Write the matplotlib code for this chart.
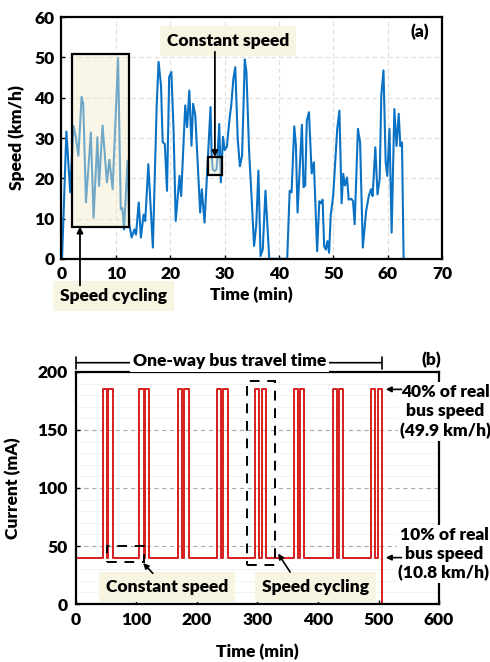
import matplotlib
matplotlib.use("Agg")
import matplotlib.pyplot as plt
from matplotlib.patches import Rectangle

plt.rcParams['font.family'] = ['Lato', 'DejaVu Sans']
plt.rcParams['font.weight'] = 'heavy'
plt.rcParams['axes.labelweight'] = 'heavy'
plt.rcParams['font.size'] = 12.5

# (a) recorded bus speed along the route
t_min = [0.1, 0.9, 1.6, 2.2, 2.6, 3.1, 3.7, 4.0, 4.5, 5.4, 5.9, 6.6, 6.9, 7.55, 8.35, 8.8,
         9.4, 10.4, 10.9, 11.2, 11.5, 12.15, 12.45, 12.9, 13.4, 13.7, 14.2, 14.6, 15.1, 15.4,
         15.96, 16.8, 17.5, 17.85, 18.3, 18.6, 19.0, 19.4, 19.8, 20.2, 20.6, 21.0, 21.7, 22.0,
         22.75, 23.1, 23.5, 23.9, 24.2, 24.6, 25.1, 25.5, 25.8, 26.3, 27.4, 27.6, 27.8, 28.2,
         28.5, 28.7, 29.0, 29.3, 29.7, 30.0, 30.4, 30.9, 31.2, 31.6, 31.95, 32.4, 32.8, 33.2,
         33.7, 34.0, 34.5, 35.0, 35.4, 35.8, 36.2, 36.6, 37.0, 37.5, 38.0, 38.2, 41.5, 41.95,
         42.3, 42.8, 43.1, 43.4, 44.2, 44.5, 44.8, 45.1, 45.5, 46.0, 46.4, 47.0, 47.4, 47.7,
         48.0, 48.3, 48.6, 48.9, 49.2, 49.5, 49.95, 50.7, 51.1, 51.5, 51.8, 52.1, 52.5, 52.8,
         53.3, 53.6, 53.9, 54.5, 54.9, 55.4, 56.0, 56.5, 56.9, 57.2, 57.7, 58.1, 58.5, 58.8,
         59.2, 59.6, 59.9, 60.3, 60.7, 61.2, 61.6, 62.0, 62.3, 62.6, 62.9]
speed_kmh = [0, 31.6, 16.5, 33, 30.5, 25.6, 40.2, 38.5, 14, 31.4, 10.2, 30.2, 18.1, 33.1, 19, 24.6,
             17.3, 49.9, 12.3, 12.6, 7.3, 24.4, 8.6, 5.3, 7.3, 6.0, 14, 5.3, 11, 9.4,
             23.5, 2.8, 38, 48.9, 43, 29, 28.5, 16.9, 45.2, 46.4, 32.3, 9.4, 20.6, 15.6,
             38.1, 32.7, 41.8, 28.1, 38.5, 35.6, 22.3, 11.5, 17.3, 9, 37.7, 26, 22.2, 21.8,
             22.3, 25.5, 33.5, 19, 30.3, 27, 27.8, 34.8, 38, 44.7, 47.6, 29.7, 23, 25.6,
             49.5, 46.4, 26.4, 14, 3.2, 8.2, 21.9, 0.7, 2.3, 16.9, 4.6, 0, 0, 16.9,
             16.5, 32.9, 28.1, 11.5, 33.3, 17.8, 18.2, 34.3, 36.4, 21.2, 24, 1.9, 14.3, 13.8,
             14.7, 3.1, 2.3, 4.4, 1.5, 10.8, 15.7, 32.3, 36.8, 13.8, 21.1, 18.2, 20.2, 14.7,
             14.9, 14.3, 8.6, 32.3, 28.9, 2.8, 11.8, 15.6, 17.3, 15.6, 27.7, 16, 19.8, 40.6,
             46.8, 24, 20.6, 32.3, 6.5, 37.2, 28, 36, 28, 28.9, 0]

# (b) programmed current profile
pulse_starts = [44, 53.5, 105, 114.5, 169, 179, 232.5, 243.5,
                296, 307, 360, 370, 424, 435, 487.5, 498.5]
pulse_width = 7
base_current = 40
peak_current = 185

cream = '#F8F4E2'
blue = '#0A72C4'
red = '#D81E1E'


def bold_ticks(ax):
    for lab in ax.get_xticklabels() + ax.get_yticklabels():
        lab.set_fontweight('heavy')


fig = plt.figure(figsize=(4.9, 6.62), dpi=100)

# ---------------- (a) ----------------
ax1 = fig.add_axes([0.1255, 0.609, 0.777, 0.365])
ax1.plot(t_min, speed_kmh, color=blue, lw=1.5, zorder=2)
ax1.set_xlim(0, 70)
ax1.set_ylim(0, 60)
ax1.set_xticks(range(0, 71, 10))
ax1.set_yticks(range(0, 61, 10))
ax1.grid(True, color='#DDDDDD', ls=(0, (4, 3)), lw=0.8)
ax1.set_axisbelow(True)
ax1.tick_params(direction='in', length=3, width=1, pad=5)
bold_ticks(ax1)
for s in ax1.spines.values():
    s.set_linewidth(1.6)
ax1.set_xlabel('Time (min)')
ax1.xaxis.set_label_coords(0.5, -0.115)
ax1.set_ylabel('Speed (km/h)')
ax1.yaxis.set_label_coords(-0.095, 0.5)

# highlighted regions
ax1.add_patch(Rectangle((1.85, 8.0), 10.6, 42.8, facecolor='#F3ECCC', alpha=0.45,
                        edgecolor='none', zorder=3))
ax1.add_patch(Rectangle((1.85, 8.0), 10.6, 42.8, fill=False, edgecolor='black',
                        lw=1.6, zorder=4))
ax1.add_patch(Rectangle((26.9, 20.8), 2.6, 4.4, facecolor='#F3ECCC', alpha=0.45,
                        edgecolor='none', zorder=3))
ax1.add_patch(Rectangle((26.9, 20.8), 2.6, 4.4, fill=False, edgecolor='black',
                        lw=1.6, zorder=4))

ax1.text(30.6, 54.2, 'Constant speed', ha='center', va='center', zorder=5,
         bbox=dict(boxstyle='square,pad=0.4', facecolor=cream, edgecolor='none'))
ax1.annotate('', xy=(28.2, 25.3), xytext=(28.2, 51.4),
             arrowprops=dict(arrowstyle='-|>', color='black', lw=1.3, mutation_scale=9,
                             shrinkA=0, shrinkB=0), zorder=5)
ax1.text(9.5, -9.2, 'Speed cycling', ha='center', va='center', clip_on=False,
         bbox=dict(boxstyle='square,pad=0.4', facecolor=cream, edgecolor='none'))
ax1.annotate('', xy=(3.4, 8.0), xytext=(3.4, -6.6), annotation_clip=False,
             arrowprops=dict(arrowstyle='-|>', color='black', lw=1.3, mutation_scale=9,
                             shrinkA=0, shrinkB=0))
ax1.text(0.942, 0.938, '(a)', transform=ax1.transAxes, ha='center', va='center')

# ---------------- (b) ----------------
cx = [0, 0]
cy = [0, base_current]
for s in pulse_starts:
    cx += [s, s, s + pulse_width, s + pulse_width]
    cy += [base_current, peak_current, peak_current, base_current]
cy[-1] = 0  # supply switched off after the last pulse
end_time = cx[-1]

ax2 = fig.add_axes([0.155, 0.0876, 0.741, 0.3505])
ax2.plot(cx, cy, color=red, lw=1.4, zorder=2)
ax2.set_xlim(0, 600)
ax2.set_ylim(0, 200)
ax2.set_xticks(range(0, 601, 100))
ax2.set_yticks(range(0, 201, 50))
ax2.set_yticks(range(0, 201, 10), minor=True)
ax2.grid(True, which='major', axis='y', color='#AAAAAA', ls=(0, (4, 3)), lw=0.8)
ax2.grid(True, which='minor', axis='y', color='#F0F0F0', lw=0.6)
ax2.set_axisbelow(True)
ax2.tick_params(which='major', direction='in', length=3, width=1, pad=6)
ax2.tick_params(which='minor', length=0)
bold_ticks(ax2)
for s in ax2.spines.values():
    s.set_linewidth(1.6)
ax2.set_xlabel('Time (min)')
ax2.xaxis.set_label_coords(0.5, -0.17)
ax2.set_ylabel('Current (mA)')
ax2.yaxis.set_label_coords(-0.15, 0.5)

dash = (0, (5, 4))
ax2.add_patch(Rectangle((52, 36), 60, 14, fill=False, edgecolor='black', lw=1.4, ls=dash,
                        zorder=4))
ax2.add_patch(Rectangle((282, 33.5), 47, 159, fill=False, edgecolor='black', lw=1.4,
                        ls=dash, zorder=4, clip_on=False))

ax2.text(150, 14.7, 'Constant speed', ha='center', va='center', zorder=5,
         bbox=dict(boxstyle='square,pad=0.4', facecolor=cream, edgecolor='none'))
ax2.annotate('', xy=(111, 35.3), xytext=(127, 26.5),
             arrowprops=dict(arrowstyle='-|>', color='black', lw=1.2, mutation_scale=8,
                             shrinkA=0, shrinkB=0), zorder=5)
ax2.text(396, 14.7, 'Speed cycling', ha='center', va='center', zorder=5,
         bbox=dict(boxstyle='square,pad=0.4', facecolor=cream, edgecolor='none'))
ax2.annotate('', xy=(334, 43.5), xytext=(354, 27.5),
             arrowprops=dict(arrowstyle='-|>', color='black', lw=1.2, mutation_scale=8,
                             shrinkA=0, shrinkB=0), zorder=5)

# travel-time bracket above the panel
ax2.annotate('', xy=(0, 208), xytext=(end_time, 208), annotation_clip=False,
             arrowprops=dict(arrowstyle='|-|,widthA=0.35,widthB=0.35', color='black',
                             lw=1.2, shrinkA=0, shrinkB=0))
ax2.text(254, 209.5, 'One-way bus travel time', ha='center', va='center', clip_on=False,
         bbox=dict(boxstyle='square,pad=0.15', facecolor='white', edgecolor='none'))
ax2.text(0.978, 1.052, '(b)', transform=ax2.transAxes, ha='center', va='center')

ax2.text(610, 166, '40% of real\nbus speed\n(49.9 km/h)', ha='center', va='center',
         clip_on=False, linespacing=1.25,
         bbox=dict(boxstyle='square,pad=0.1', facecolor='white', edgecolor='none'))
ax2.annotate('', xy=(512, peak_current), xytext=(538, peak_current), annotation_clip=False,
             arrowprops=dict(arrowstyle='-|>', color='black', lw=1.2, mutation_scale=8,
                             shrinkA=0, shrinkB=0))
ax2.text(608, 43, '10% of real\nbus speed\n(10.8 km/h)', ha='center', va='center',
         clip_on=False, linespacing=1.25,
         bbox=dict(boxstyle='square,pad=0.1', facecolor='white', edgecolor='none'))
ax2.annotate('', xy=(512, base_current), xytext=(538, base_current), annotation_clip=False,
             arrowprops=dict(arrowstyle='-|>', color='black', lw=1.2, mutation_scale=8,
                             shrinkA=0, shrinkB=0))

fig.savefig('out.png', dpi=100)
